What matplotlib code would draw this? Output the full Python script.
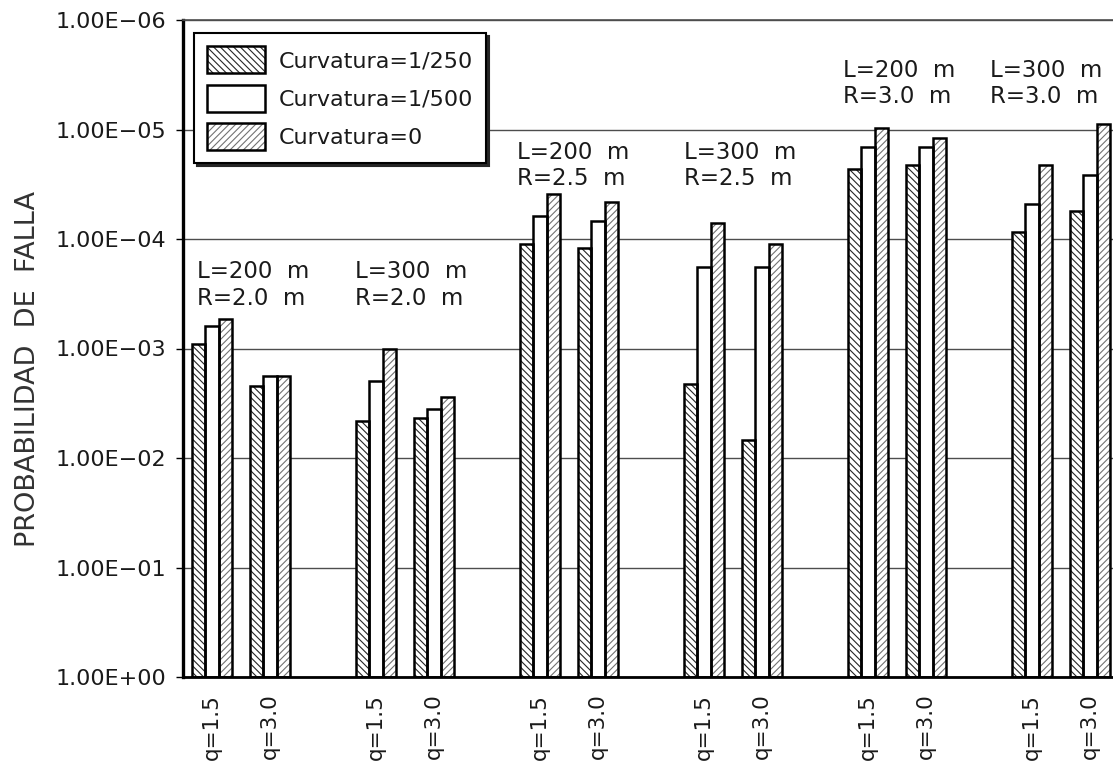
import numpy as np
import matplotlib
matplotlib.use("Agg")
import matplotlib.pyplot as plt
from matplotlib.patches import Patch
from matplotlib.legend_handler import HandlerTuple
from matplotlib.ticker import FixedLocator, FuncFormatter, NullLocator

# Probabilidad de falla por caso (L, R) y carga q
grupos = ["L=200  m\nR=2.0  m", "L=300  m\nR=2.0  m",
          "L=200  m\nR=2.5  m", "L=300  m\nR=2.5  m",
          "L=200  m\nR=3.0  m", "L=300  m\nR=3.0  m"]
cargas = ["q=1.5", "q=3.0"]
series = ["Curvatura=1/250", "Curvatura=1/500", "Curvatura=0"]

# orden: grupo1 q=1.5, grupo1 q=3.0, grupo2 q=1.5, ...
curv_250 = [9.1e-4, 2.2e-3, 4.6e-3, 4.3e-3, 1.1e-4, 1.2e-4,
            2.1e-3, 6.9e-3, 2.3e-5, 2.1e-5, 8.7e-5, 5.5e-5]
curv_500 = [6.2e-4, 1.8e-3, 2.0e-3, 3.6e-3, 6.2e-5, 6.9e-5,
            1.8e-4, 1.8e-4, 1.45e-5, 1.45e-5, 4.8e-5, 2.6e-5]
curv_0 = [5.4e-4, 1.8e-3, 1.0e-3, 2.8e-3, 3.9e-5, 4.6e-5,
          7.2e-5, 1.1e-4, 9.7e-6, 1.2e-5, 2.1e-5, 8.9e-6]

# estilo de cada serie: (hatch, color del rayado)
estilos = [("\\\\\\\\\\", "0.15"), (None, "white"), ("/////", "0.45")]

plt.rcParams["font.family"] = "DejaVu Sans"
plt.rcParams["hatch.linewidth"] = 0.8

fig = plt.figure(figsize=(11.13, 7.65), dpi=100)
ax = fig.add_axes([183 / 1113, 88 / 765, 1 - 183 / 1113, 657 / 765])

sep_q = 0.177
ancho = 0.081
x_centros = []
for g in range(len(grupos)):
    for k in range(len(cargas)):
        x_centros.append(g + (k - 0.5) * 2 * sep_q)
x_centros = np.array(x_centros)

for s, valores in enumerate([curv_250, curv_500, curv_0]):
    hatch, col = estilos[s]
    xs = x_centros + (s - 1) * ancho
    alto = np.array(valores) - 1.0
    if hatch:
        ax.bar(xs, alto, bottom=1.0, width=ancho, facecolor="white",
               edgecolor=col, hatch=hatch, linewidth=0, zorder=2)
    else:
        ax.bar(xs, alto, bottom=1.0, width=ancho, facecolor="white",
               linewidth=0, zorder=2)
    ax.bar(xs, alto, bottom=1.0, width=ancho, facecolor="none",
           edgecolor="black", linewidth=1.8, zorder=3)

ax.set_yscale("log")
ax.set_ylim(1.0, 1e-6)
ax.set_xlim(-0.354, 5.317)

ax.yaxis.set_major_locator(FixedLocator([10.0 ** -k for k in range(7)]))
ax.yaxis.set_minor_locator(NullLocator())
ax.yaxis.set_major_formatter(FuncFormatter(lambda v, p: f"{v:.2E}".replace("-", "\u2212")))
ax.tick_params(axis="y", labelsize=16, length=5, width=1, pad=7,
               labelcolor="0.1")

ax.set_xticks(x_centros)
ax.set_xticklabels(cargas * len(grupos), rotation=90, fontsize=15.5,
                   color="0.1")
ax.tick_params(axis="x", length=0, pad=12)

ax.yaxis.grid(True, color="0.3", linewidth=1.0)
ax.set_axisbelow(True)

ax.spines["right"].set_visible(False)
ax.spines["left"].set_linewidth(2.4)
ax.spines["bottom"].set_linewidth(2.0)
ax.spines["top"].set_linewidth(1.2)
ax.spines["top"].set_color("0.3")

# etiquetas de cada caso
pos_x = [-0.27, 0.696, 1.683, 2.70, 3.669, 4.567]
pos_d = [3.40, 3.40, 4.49, 4.49, 5.24, 5.24]
for texto, px, d in zip(grupos, pos_x, pos_d):
    ax.text(px, 10.0 ** -d, texto, fontsize=16.5, ha="left", va="baseline",
            linespacing=1.2, color="0.1", zorder=4)

fig.text(28 / 1113, 1 - 369 / 765, "PROBABILIDAD  DE  FALLA", rotation=90,
         fontsize=19.5, ha="center", va="center", color="0.2")

handles = []
for hatch, col in estilos:
    fondo = Patch(facecolor="white", edgecolor=col, hatch=hatch, linewidth=0)
    borde = Patch(facecolor="none", edgecolor="black", linewidth=1.8)
    handles.append((fondo, borde))

leg = ax.legend(handles, series,
                handler_map={tuple: HandlerTuple(ndivide=1, pad=0)},
                loc="upper left", bbox_to_anchor=(194 / 1113, 1 - 33 / 765),
                bbox_transform=fig.transFigure, borderaxespad=0,
                fontsize=16, handlelength=2.6, handleheight=1.5,
                labelspacing=0.5, handletextpad=0.6, borderpad=0.6,
                fancybox=False, framealpha=1, edgecolor="black",
                shadow={"color": "0.15", "alpha": 1})
leg.get_frame().set_linewidth(1.5)
for t in leg.get_texts():
    t.set_color("0.1")
leg.set_zorder(5)

fig.savefig("out.png", dpi=100)
